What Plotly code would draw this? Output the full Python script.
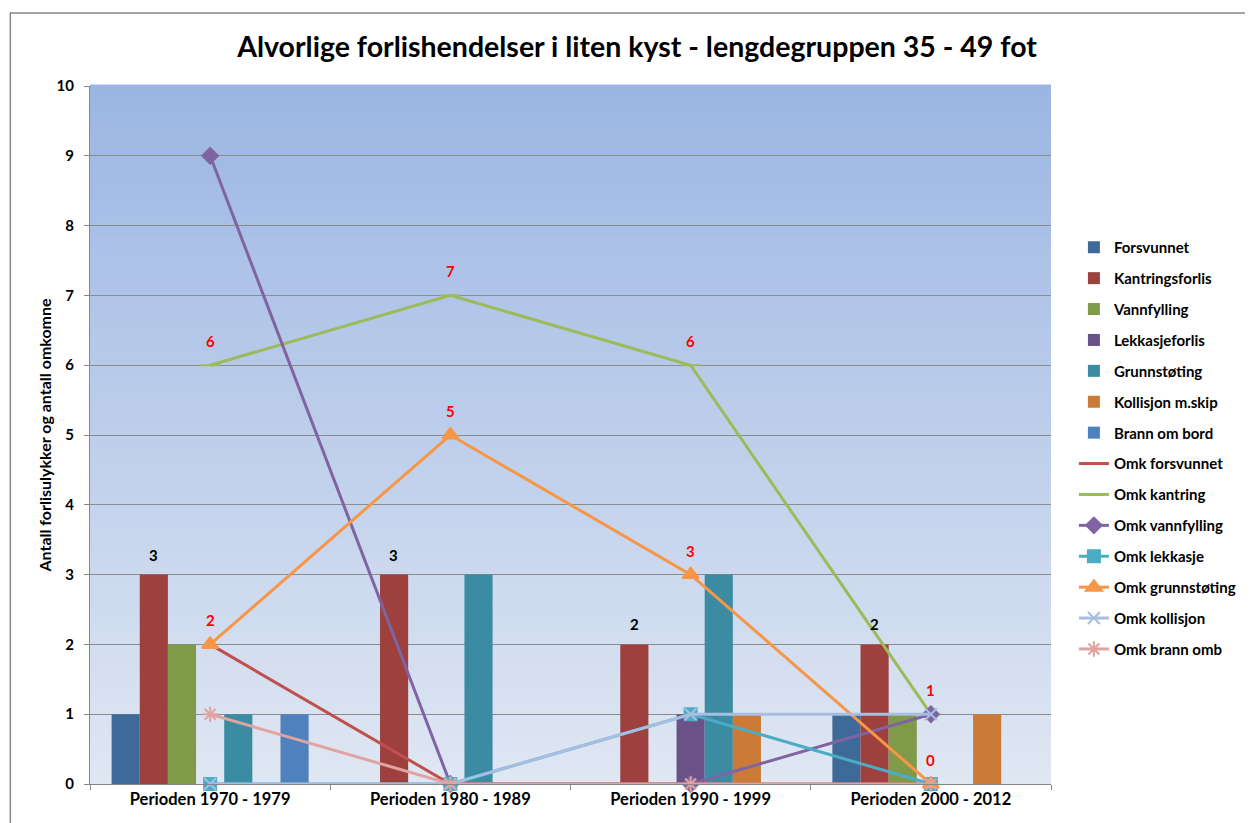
import plotly.graph_objects as go

categories = ["Perioden 1970 - 1979", "Perioden 1980 - 1989", "Perioden 1990 - 1999", "Perioden 2000 - 2012"]

bar_names = ["Forsvunnet", "Kantringsforlis", "Vannfylling", "Lekkasjeforlis",
             "Grunnstøting", "Kollisjon m.skip", "Brann om bord"]
forsvunnet = [1, 0, 0, 1]
kantringsforlis = [3, 3, 2, 2]
vannfylling = [2, 0, 0, 1]
lekkasjeforlis = [0, 0, 1, 0]
grunnstoting = [1, 3, 3, 0]
kollisjon = [0, 0, 1, 1]
brann = [1, 0, 0, 0]
bar_values = [forsvunnet, kantringsforlis, vannfylling, lekkasjeforlis, grunnstoting, kollisjon, brann]
bar_colors = ["#3E6A9A", "#9D403E", "#7F9A48", "#6A5187", "#3B8CA2", "#CB7B37", "#4F81BD"]

line_names = ["Omk forsvunnet", "Omk kantring", "Omk vannfylling", "Omk lekkasje",
              "Omk grunnstøting", "Omk kollisjon", "Omk brann omb"]
omk_forsvunnet = [2, 0, 0, 0]
omk_kantring = [6, 7, 6, 1]
omk_vannfylling = [9, 0, 0, 1]
omk_lekkasje = [0, 0, 1, 0]
omk_grunnstoting = [2, 5, 3, 0]
omk_kollisjon = [0, 0, 1, 1]
omk_brann = [1, 0, 0, 0]
line_values = [omk_forsvunnet, omk_kantring, omk_vannfylling, omk_lekkasje,
               omk_grunnstoting, omk_kollisjon, omk_brann]
line_colors = ["#C0504D", "#9BBB59", "#8064A2", "#4BACC6", "#F79646", "#A7BEE0", "#E0A3A1"]
line_symbols = [None, "line-ew", "diamond", "square", "triangle-up", "x-thin", "asterisk"]
line_msizes = [0, 14, 12, 12, 14, 12, 13]

FONT = "Lato, 'Open Sans', sans-serif"

fig = go.Figure()

for i, (name, vals, col) in enumerate(zip(bar_names, bar_values, bar_colors)):
    fig.add_trace(go.Bar(x=categories, y=vals, name=f"<b>{name}</b>",
                         marker=dict(color=col, line=dict(width=0)),
                         legendgroup=f"g{i}"))

for i, (name, vals, col, sym, ms) in enumerate(zip(line_names, line_values, line_colors, line_symbols, line_msizes)):
    if sym is None:
        mode = "lines"
        marker = dict()
    else:
        mode = "lines+markers"
        marker = dict(symbol=sym, size=ms, color=col, line=dict(color=col, width=2))
    fig.add_trace(go.Scatter(x=categories, y=vals, name=f"<b>{name}</b>", mode=mode,
                             line=dict(color=col, width=3), marker=marker, cliponaxis=False,
                             legendgroup=f"h{i}"))

# layout geometry (page has an 8px body margin, so figure coords = page coords - 8)
OFF = 8
W, H = 1253 - OFF, 823 - OFF
L, T = 90 - OFF, 86 - OFF
R = W - (1055 - OFF)
B = H - (784 - OFF)
bargap = 0.18
plot_w = W - L - R
plot_h = H - T - B
cat_px = plot_w / len(categories)
bar_w = cat_px * (1 - bargap) / len(bar_names)

annotations = []
# black labels above Kantringsforlis bars
k_idx = 1
k_shift = (k_idx - (len(bar_names) - 1) / 2) * bar_w
for c, v in zip(categories, kantringsforlis):
    annotations.append(dict(x=c, y=v, text=f"<b>{v}</b>", showarrow=False, xshift=k_shift, yshift=20,
                            font=dict(family=FONT, size=15, color="black")))
# red labels on lines
for series in (omk_kantring, omk_grunnstoting):
    for c, v in zip(categories, series):
        annotations.append(dict(x=c, y=v, text=f"<b>{v}</b>", showarrow=False, yshift=24,
                                font=dict(family=FONT, size=15, color="#FF0000")))

# gradient background bands
shapes = []
nb = 60
top = (155, 182, 227)
bot = (224, 231, 243)
for k in range(nb):
    t = (k + 0.5) / nb
    r = [round(bot[j] + (top[j] - bot[j]) * t) for j in range(3)]
    shapes.append(dict(type="rect", xref="x domain", yref="y domain", x0=0, x1=1,
                       y0=k / nb, y1=(k + 1) / nb + 0.002, layer="below",
                       fillcolor=f"rgb({r[0]},{r[1]},{r[2]})", line=dict(width=0)))
# outer chart border
shapes.append(dict(type="rect", xref="paper", yref="paper",
                   x0=(10 - OFF - L) / plot_w, x1=1.5, y0=-0.5,
                   y1=(H - B - (13 - OFF)) / plot_h,
                   line=dict(color="#888888", width=1.5), fillcolor="rgba(0,0,0,0)"))

fig.update_layout(
    width=W, height=H,
    margin=dict(l=L, r=R, t=T, b=B),
    paper_bgcolor="white",
    plot_bgcolor="rgba(0,0,0,0)",
    barmode="group", bargap=bargap, bargroupgap=0,
    font=dict(family=FONT, color="black"),
    title=dict(text="<b>Alvorlige forlishendelser i liten kyst - lengdegruppen 35 - 49 fot</b>",
               x=(637 - OFF) / W, xanchor="center", y=1 - (47 - OFF) / H, yanchor="middle",
               font=dict(family=FONT, size=28.5, color="black")),
    xaxis=dict(type="category", showgrid=False, showline=True, linecolor="#868686", linewidth=1,
               ticks="outside", tickson="boundaries", ticklen=5, tickcolor="#868686", automargin=False,
               tickfont=dict(family=FONT, size=16.5, color="black"), tickprefix="<b>", ticksuffix="</b>"),
    yaxis=dict(range=[0, 10], dtick=1, showgrid=True, gridcolor="#8C8C8C", gridwidth=1,
               showline=True, linecolor="#868686", linewidth=1, zeroline=False, automargin=False,
               ticks="outside", ticklen=5, tickcolor="#868686", ticklabelstandoff=7,
               tickfont=dict(family=FONT, size=15, color="black"), tickprefix="<b>", ticksuffix="</b>",
               title=dict(text="<b>Antall forlisulykker og antall omkomne</b>", standoff=0,
                          font=dict(family=FONT, size=16, color="black"))),
    legend=dict(x=(1078 - OFF - L) / plot_w, xanchor="left",
                y=(H - B - (231 - OFF)) / plot_h, yanchor="top",
                font=dict(family=FONT, size=15, color="black"), tracegroupgap=8.4,
                bgcolor="rgba(0,0,0,0)", itemwidth=30),
    annotations=annotations,
    shapes=shapes,
)

fig.write_html("out.html")
